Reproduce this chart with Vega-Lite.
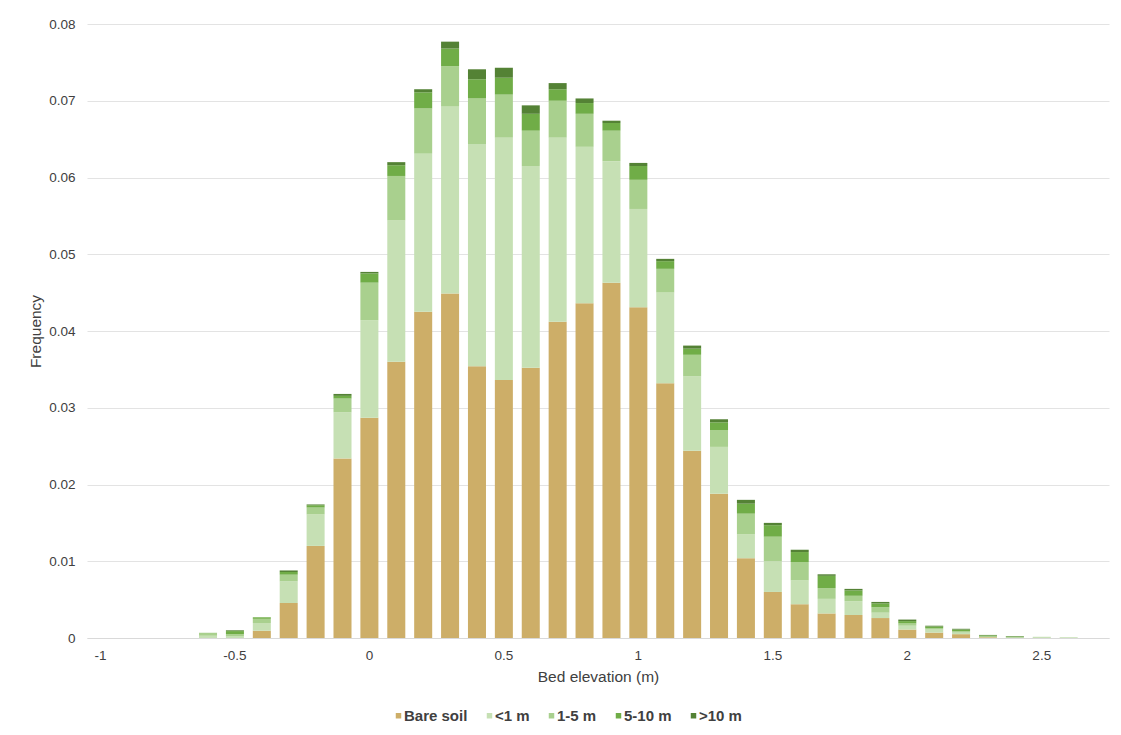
{
  "$schema": "https://vega.github.io/schema/vega-lite/v6.json",
  "autosize": {"type": "none"},
  "width": 1022,
  "height": 614,
  "padding": {"left": 87, "top": 24, "right": 12, "bottom": 97},
  "background": "white",
  "config": {
    "font": "Liberation Sans",
    "view": {"stroke": null}
  },
  "datasets": {
    "covers": [
      {"cover": "Bare soil", "rank": 1},
      {"cover": "<1 m", "rank": 2},
      {"cover": "1-5 m", "rank": 3},
      {"cover": "5-10 m", "rank": 4},
      {"cover": ">10 m", "rank": 5}
    ]
  },
  "data": {
    "values": [
      {"e": -0.6, "Bare soil": 0, "<1 m": 0.0003, "1-5 m": 0.0004, "5-10 m": 0, ">10 m": 0},
      {"e": -0.5, "Bare soil": 0, "<1 m": 0.0002, "1-5 m": 0.0003, "5-10 m": 0.0004, ">10 m": 0.0001},
      {"e": -0.4, "Bare soil": 0.00095, "<1 m": 0.001, "1-5 m": 0.00055, "5-10 m": 0.0002, ">10 m": 0},
      {"e": -0.3, "Bare soil": 0.00456, "<1 m": 0.00282, "1-5 m": 0.00087, "5-10 m": 0.00035, ">10 m": 0.0002},
      {"e": -0.2, "Bare soil": 0.012, "<1 m": 0.0041, "1-5 m": 0.0009, "5-10 m": 0.0003, ">10 m": 0.0001},
      {"e": -0.1, "Bare soil": 0.0234, "<1 m": 0.006, "1-5 m": 0.0018, "5-10 m": 0.00035, ">10 m": 0.00025},
      {"e": 0, "Bare soil": 0.0287, "<1 m": 0.0127, "1-5 m": 0.0049, "5-10 m": 0.0012, ">10 m": 0.0002},
      {"e": 0.1, "Bare soil": 0.036, "<1 m": 0.0184, "1-5 m": 0.0058, "5-10 m": 0.0014, ">10 m": 0.0004},
      {"e": 0.2, "Bare soil": 0.0425, "<1 m": 0.0206, "1-5 m": 0.0059, "5-10 m": 0.0021, ">10 m": 0.0004},
      {"e": 0.3, "Bare soil": 0.0449, "<1 m": 0.0244, "1-5 m": 0.0052, "5-10 m": 0.0023, ">10 m": 0.0009},
      {"e": 0.4, "Bare soil": 0.0354, "<1 m": 0.0289, "1-5 m": 0.006, "5-10 m": 0.0025, ">10 m": 0.0013},
      {"e": 0.5, "Bare soil": 0.0336, "<1 m": 0.0316, "1-5 m": 0.0056, "5-10 m": 0.0022, ">10 m": 0.0013},
      {"e": 0.6, "Bare soil": 0.0352, "<1 m": 0.0263, "1-5 m": 0.0046, "5-10 m": 0.0022, ">10 m": 0.0011},
      {"e": 0.7, "Bare soil": 0.0412, "<1 m": 0.024, "1-5 m": 0.0048, "5-10 m": 0.0015, ">10 m": 0.0008},
      {"e": 0.8, "Bare soil": 0.0436, "<1 m": 0.0204, "1-5 m": 0.0043, "5-10 m": 0.0014, ">10 m": 0.0006},
      {"e": 0.9, "Bare soil": 0.0463, "<1 m": 0.0158, "1-5 m": 0.004, "5-10 m": 0.001, ">10 m": 0.0003},
      {"e": 1, "Bare soil": 0.0431, "<1 m": 0.0128, "1-5 m": 0.0038, "5-10 m": 0.0018, ">10 m": 0.0004},
      {"e": 1.1, "Bare soil": 0.0332, "<1 m": 0.0118, "1-5 m": 0.0031, "5-10 m": 0.001, ">10 m": 0.0003},
      {"e": 1.2, "Bare soil": 0.0244, "<1 m": 0.0097, "1-5 m": 0.0028, "5-10 m": 0.0008, ">10 m": 0.0004},
      {"e": 1.3, "Bare soil": 0.0188, "<1 m": 0.0061, "1-5 m": 0.0022, "5-10 m": 0.001, ">10 m": 0.0004},
      {"e": 1.4, "Bare soil": 0.0104, "<1 m": 0.0031, "1-5 m": 0.0027, "5-10 m": 0.0013, ">10 m": 0.0005},
      {"e": 1.5, "Bare soil": 0.006, "<1 m": 0.004, "1-5 m": 0.0032, "5-10 m": 0.0015, ">10 m": 0.0003},
      {"e": 1.6, "Bare soil": 0.0044, "<1 m": 0.0031, "1-5 m": 0.0024, "5-10 m": 0.0013, ">10 m": 0.0003},
      {"e": 1.7, "Bare soil": 0.0032, "<1 m": 0.0019, "1-5 m": 0.0014, "5-10 m": 0.0016, ">10 m": 0.0002},
      {"e": 1.8, "Bare soil": 0.003, "<1 m": 0.0018, "1-5 m": 0.0007, "5-10 m": 0.0007, ">10 m": 0.0002},
      {"e": 1.9, "Bare soil": 0.0026, "<1 m": 0.0007, "1-5 m": 0.0007, "5-10 m": 0.0005, ">10 m": 0.0002},
      {"e": 2, "Bare soil": 0.0011, "<1 m": 0.0005, "1-5 m": 0.0003, "5-10 m": 0.0003, ">10 m": 0.0002},
      {"e": 2.1, "Bare soil": 0.0007, "<1 m": 0.0004, "1-5 m": 0.0002, "5-10 m": 0.0002, ">10 m": 0.0001},
      {"e": 2.2, "Bare soil": 0.0005, "<1 m": 0.0002, "1-5 m": 0.0002, "5-10 m": 0.0002, ">10 m": 0.0001},
      {"e": 2.3, "Bare soil": 0.0001, "<1 m": 0.00005, "1-5 m": 0.00005, "5-10 m": 0.00015, ">10 m": 0.00005},
      {"e": 2.4, "Bare soil": 0, "<1 m": 0.00005, "1-5 m": 0.00005, "5-10 m": 0.0001, ">10 m": 0.00005},
      {"e": 2.5, "Bare soil": 0, "<1 m": 0.0001, "1-5 m": 0.00005, "5-10 m": 0, ">10 m": 0},
      {"e": 2.6, "Bare soil": 0, "<1 m": 0.0001, "1-5 m": 0, "5-10 m": 0, ">10 m": 0}
    ]
  },
  "transform": [
    {"fold": ["Bare soil", "<1 m", "1-5 m", "5-10 m", ">10 m"], "as": ["cover", "freq"]},
    {"lookup": "cover", "from": {"data": {"name": "covers"}, "key": "cover", "fields": ["rank"]}}
  ],
  "mark": {"type": "bar"},
  "encoding": {
    "x": {
      "field": "e",
      "type": "ordinal",
      "scale": {
        "domain": [-1, -0.9, -0.8, -0.7, -0.6, -0.5, -0.4, -0.3, -0.2, -0.1, 0, 0.1, 0.2, 0.3, 0.4, 0.5, 0.6, 0.7, 0.8, 0.9, 1, 1.1, 1.2, 1.3, 1.4, 1.5, 1.6, 1.7, 1.8, 1.9, 2, 2.1, 2.2, 2.3, 2.4, 2.5, 2.6, 2.7],
        "paddingInner": 0.33,
        "paddingOuter": 0.165
      },
      "axis": {
        "title": "Bed elevation (m)",
        "labelAngle": 0,
        "labelExpr": "abs(datum.value*2 - round(datum.value*2)) < 0.001 ? datum.label : ''",
        "ticks": false,
        "domainColor": "#d9d9d9",
        "labelFont": "Liberation Sans",
        "labelFontSize": 13.5,
        "labelColor": "#404040",
        "labelPadding": 10,
        "titleFont": "Liberation Sans",
        "titleFontSize": 15.5,
        "titleFontWeight": "normal",
        "titleColor": "#404040",
        "titlePadding": 8
      }
    },
    "y": {
      "field": "freq",
      "type": "quantitative",
      "aggregate": "sum",
      "stack": "zero",
      "scale": {"domain": [0, 0.08], "nice": false},
      "axis": {
        "title": "Frequency",
        "values": [0, 0.01, 0.02, 0.03, 0.04, 0.05, 0.06, 0.07, 0.08],
        "format": ".2~f",
        "domain": false,
        "ticks": false,
        "gridColor": "#e3e3e3",
        "labelFont": "Liberation Sans",
        "labelFontSize": 13.5,
        "labelColor": "#404040",
        "labelPadding": 12,
        "titleFont": "Liberation Sans",
        "titleFontSize": 15.5,
        "titleFontWeight": "normal",
        "titleColor": "#404040",
        "titlePadding": 5
      }
    },
    "color": {
      "field": "cover",
      "type": "nominal",
      "scale": {
        "domain": ["Bare soil", "<1 m", "1-5 m", "5-10 m", ">10 m"],
        "range": ["#CDAE68", "#C6E0B4", "#A9D08E", "#70AD47", "#548235"]
      },
      "legend": {
        "title": null,
        "orient": "none",
        "direction": "horizontal",
        "columns": 5,
        "gridAlign": "each",
        "legendX": 304,
        "legendY": 684,
        "padding": 0,
        "symbolType": "square",
        "symbolSize": 30,
        "symbolStrokeWidth": 0,
        "labelFont": "Liberation Sans",
        "labelFontSize": 15,
        "labelFontWeight": "bold",
        "labelColor": "#404040",
        "labelOffset": -2,
        "columnPadding": 14
      }
    },
    "order": {"field": "rank", "type": "quantitative", "sort": "ascending"},
    "tooltip": [{"field": "e"}, {"field": "cover"}, {"field": "freq", "aggregate": "sum"}]
  }
}
